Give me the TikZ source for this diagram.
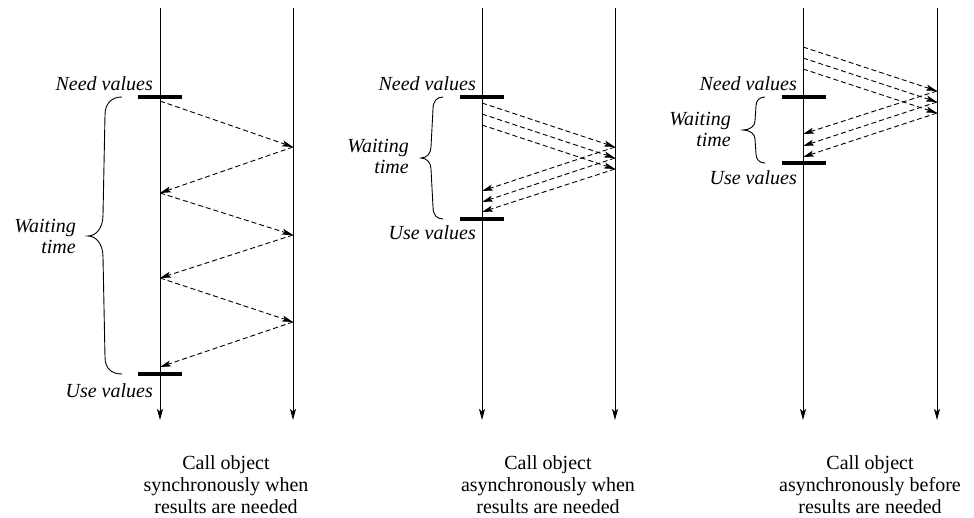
\documentclass[tikz,border=0pt]{standalone}
\usepackage{fontspec}
\setmainfont{Liberation Serif}
\usetikzlibrary{arrows.meta}
\begin{document}
\begin{tikzpicture}[x=1pt,y=-1pt,
  lifeline/.style={line width=1pt,-{Stealth[length=11pt,width=6pt,inset=2.5pt]}},
  msg/.style={line width=0.9pt,dash pattern=on 5pt off 3pt,-{Stealth[length=11pt,width=6pt,inset=2.5pt]}},
  timebar/.style={line width=4pt},
  lbl/.style={font=\fontsize{20}{22}\selectfont\itshape,inner sep=0pt,anchor=base east},
  wt/.style={font=\fontsize{20}{21}\selectfont\itshape,inner sep=0pt,anchor=north east,align=right},
  captext/.style={font=\fontsize{20}{22}\selectfont,inner sep=0pt,anchor=north,align=center},
  bracepath/.style={line width=0.9pt}
]
\useasboundingbox (0,0) rectangle (974,518);

% ---------------- Panel 1 ----------------
\coordinate (A1top) at (160,8);  \coordinate (A1bot) at (160,420);
\coordinate (B1top) at (293,8);  \coordinate (B1bot) at (293,420);
\draw[lifeline] (A1top) -- (A1bot);
\draw[lifeline] (B1top) -- (B1bot);
\coordinate (N1l) at (138,97);  \coordinate (N1r) at (182,97);
\coordinate (U1l) at (138,374); \coordinate (U1r) at (182,374);
\draw[timebar] (N1l) -- (N1r);
\draw[timebar] (U1l) -- (U1r);
\coordinate (a11) at (160,101); \coordinate (b11) at (293,147);
\coordinate (a12) at (160,193); \coordinate (b12) at (293,235);
\coordinate (a13) at (160,278); \coordinate (b13) at (293,322);
\coordinate (a14) at (160,367);
\draw[msg] (a11) -- (b11);
\draw[msg] (b11) -- (a12);
\draw[msg] (a12) -- (b12);
\draw[msg] (b12) -- (a13);
\draw[msg] (a13) -- (b13);
\draw[msg] (b13) -- (a14);
\node[lbl] (need1) at (153,91) {Need values};
\node[lbl] (use1) at (153,397) {Use values};
\node[wt] (wait1) at (76,219) {Waiting\\time};
\draw[bracepath] (122,97) .. controls (112,97) and (105,103) .. (105,115)
  -- (103,215) .. controls (103,228) and (96,236) .. (88,236)
  .. controls (96,236) and (103,244) .. (103,257)
  -- (105,357) .. controls (105,369) and (112,374) .. (122,374);
\node[captext] (cap1) at (226,455) {Call object\\synchronously when\\results are needed};

% ---------------- Panel 2 ----------------
\coordinate (A2top) at (482,8);  \coordinate (A2bot) at (482,420);
\coordinate (B2top) at (615,8);  \coordinate (B2bot) at (615,420);
\draw[lifeline] (A2top) -- (A2bot);
\draw[lifeline] (B2top) -- (B2bot);
\coordinate (N2l) at (460,97);  \coordinate (N2r) at (504,97);
\coordinate (U2l) at (460,219); \coordinate (U2r) at (504,219);
\draw[timebar] (N2l) -- (N2r);
\draw[timebar] (U2l) -- (U2r);
\coordinate (s21) at (482,103); \coordinate (r21) at (615,147); \coordinate (e21) at (482,191);
\coordinate (s22) at (482,114); \coordinate (r22) at (615,158); \coordinate (e22) at (482,202);
\coordinate (s23) at (482,125); \coordinate (r23) at (615,169); \coordinate (e23) at (482,212);
\draw[msg] (s21) -- (r21);
\draw[msg] (s22) -- (r22);
\draw[msg] (s23) -- (r23);
\draw[msg] (r21) -- (e21);
\draw[msg] (r22) -- (e22);
\draw[msg] (r23) -- (e23);
\node[lbl] (need2) at (476,91) {Need values};
\node[lbl] (use2) at (476,240) {Use values};
\node[wt] (wait2) at (409,139) {Waiting\\time};
\draw[bracepath] (443,97) .. controls (437,97) and (433,101) .. (433,109)
  -- (431,147) .. controls (431,153) and (427,158) .. (421,158)
  .. controls (427,158) and (431,163) .. (431,169)
  -- (433,207) .. controls (433,215) and (437,219) .. (443,219);
\node[captext] (cap2) at (548,455) {Call object\\asynchronously when\\results are needed};

% ---------------- Panel 3 ----------------
\coordinate (A3top) at (803,8);  \coordinate (A3bot) at (803,420);
\coordinate (B3top) at (937,8);  \coordinate (B3bot) at (937,420);
\draw[lifeline] (A3top) -- (A3bot);
\draw[lifeline] (B3top) -- (B3bot);
\coordinate (N3l) at (782,97);  \coordinate (N3r) at (826,97);
\coordinate (U3l) at (782,163); \coordinate (U3r) at (826,163);
\draw[timebar] (N3l) -- (N3r);
\draw[timebar] (U3l) -- (U3r);
\coordinate (s31) at (803,47); \coordinate (r31) at (937,91);  \coordinate (e31) at (803,134);
\coordinate (s32) at (803,58); \coordinate (r32) at (937,102); \coordinate (e32) at (803,146);
\coordinate (s33) at (803,69); \coordinate (r33) at (937,113); \coordinate (e33) at (803,157);
\draw[msg] (s31) -- (r31);
\draw[msg] (s32) -- (r32);
\draw[msg] (s33) -- (r33);
\draw[msg] (r31) -- (e31);
\draw[msg] (r32) -- (e32);
\draw[msg] (r33) -- (e33);
\node[lbl] (need3) at (797,91) {Need values};
\node[lbl] (use3) at (797,185) {Use values};
\node[wt] (wait3) at (731,112) {Waiting\\time};
\draw[bracepath] (765,97) .. controls (760,97) and (756,100) .. (756,106)
  -- (755,121) .. controls (755,126) and (750,130) .. (743,130)
  .. controls (750,130) and (755,134) .. (755,139)
  -- (756,154) .. controls (756,160) and (760,163) .. (765,163);
\node[captext] (cap3) at (870,455) {Call object\\asynchronously before\\results are needed};
\end{tikzpicture}
\end{document}
